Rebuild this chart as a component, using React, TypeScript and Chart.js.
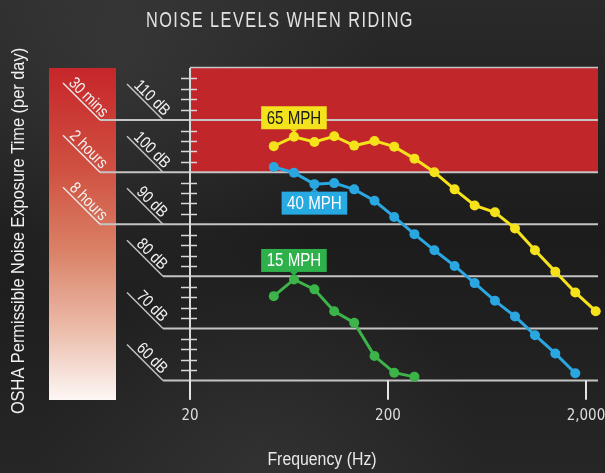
import React, { useEffect, useRef } from "react";
import { Chart, registerables } from "chart.js";

Chart.register(...registerables);

// ---------- data ----------
const frequencies = [53, 67, 85, 107, 135, 171, 215, 272, 343, 434, 548, 694, 876, 1105, 1400, 1766, 2240];
const mph65 = [105.0, 106.8, 105.8, 106.9, 105.1, 106.0, 104.9, 102.6, 100.0, 96.7, 93.6, 92.3, 89.2, 85.0, 80.9, 76.9, 73.3];
const mph40 = [101.0, 99.9, 97.7, 97.9, 96.7, 94.5, 91.4, 88.1, 85.0, 82.0, 78.7, 75.3, 72.3, 68.7, 65.2, 61.4];
const mph15 = [76.2, 79.4, 77.5, 73.3, 71.1, 64.7, 61.5, 60.7];
const seriesNames = ["65 MPH", "40 MPH", "15 MPH"];
const seriesColors = ["#f5e21b", "#2aa7e0", "#3cb44a"];
const calloutColors = ["#f4e31c", "#27a9e1", "#2eb04a"];
const calloutTextColors = ["#1a1a1a", "#ffffff", "#ffffff"];
const calloutAnchor = [1, 2, 1];
const calloutAbove = [true, false, true];

const xTicks = [20, 200, 2000];
const xTickLabels = ["20", "200", "2,000"];
const dbLevels = [110, 100, 90, 80, 70, 60];
const dbLabels = ["110 dB", "100 dB", "90 dB", "80 dB", "70 dB", "60 dB"];
const exposureLevels = [110, 100, 90];
const exposureLabels = ["30 mins", "2 hours", "8 hours"];
const dangerRange = [100, 120];
const minorTickStep = 2;

const titleText = "NOISE LEVELS WHEN RIDING";
const yTitle = "OSHA Permissible Noise Exposure Time (per day)";
const xTitle = "Frequency (Hz)";

const FONT = '"Liberation Sans", "Roboto", sans-serif';
const TICK_FONT = '"DejaVu Sans Condensed", "Liberation Sans", sans-serif';
const NARROW = 0.84;

const toPoints = (vals: number[]) => vals.map((v, i) => ({ x: frequencies[i], y: v }));

function narrowText(ctx: CanvasRenderingContext2D, text: string, x: number, y: number, scale = NARROW) {
  ctx.save();
  ctx.translate(x, y);
  ctx.scale(scale, 1);
  ctx.fillText(text, 0, 0);
  ctx.restore();
}

function drawDiag(ctx: CanvasRenderingContext2D, text: string, x1: number, y1: number, x2: number, y2: number) {
  const ang = Math.atan2(y2 - y1, x2 - x1);
  const mx = (x1 + x2) / 2;
  const my = (y1 + y2) / 2;
  ctx.save();
  ctx.translate(mx, my);
  ctx.rotate(ang);
  ctx.font = `16.5px ${FONT}`;
  ctx.fillStyle = "#f2f2f2";
  ctx.textAlign = "center";
  ctx.textBaseline = "alphabetic";
  narrowText(ctx, text, 2, -3);
  ctx.restore();
}

const decorPlugin = {
  id: "decor",
  beforeDraw(chart: any) {
    const { ctx, width, height } = chart;
    ctx.save();
    const g = ctx.createLinearGradient(0, 0, 0, height);
    g.addColorStop(0, "#2a2a2a");
    g.addColorStop(0.5, "#1c1c1c");
    g.addColorStop(1, "#262626");
    ctx.fillStyle = g;
    ctx.fillRect(0, 0, width, height);
    const r1 = ctx.createRadialGradient(120, 60, 10, 120, 60, 260);
    r1.addColorStop(0, "rgba(80,80,80,0.35)");
    r1.addColorStop(1, "rgba(80,80,80,0)");
    ctx.fillStyle = r1;
    ctx.fillRect(0, 0, width, height);
    const r2 = ctx.createRadialGradient(260, 470, 10, 260, 470, 220);
    r2.addColorStop(0, "rgba(70,70,70,0.35)");
    r2.addColorStop(1, "rgba(70,70,70,0)");
    ctx.fillStyle = r2;
    ctx.fillRect(0, 0, width, height);

    // title
    ctx.fillStyle = "#e2e2e2";
    ctx.font = `22px ${FONT}`;
    (ctx as any).letterSpacing = "2px";
    ctx.textAlign = "center";
    ctx.textBaseline = "middle";
    narrowText(ctx, titleText, 280, 21, 0.74);
    (ctx as any).letterSpacing = "0px";

    // y title
    ctx.save();
    ctx.translate(19, 231);
    ctx.rotate(-Math.PI / 2);
    ctx.font = `18px ${FONT}`;
    ctx.fillStyle = "#f0f0f0";
    narrowText(ctx, yTitle, 0, 0, 0.91);
    ctx.restore();

    // x title
    ctx.font = `18px ${FONT}`;
    ctx.fillStyle = "#e8e8e8";
    narrowText(ctx, xTitle, 322, 460, 0.88);
    ctx.restore();
  },
  beforeDatasetsDraw(chart: any) {
    const { ctx } = chart;
    const ys = chart.scales.y;
    const { left, right, top, bottom } = chart.chartArea;
    ctx.save();

    // exposure gradient bar
    const barL = 49, barR = 116, barB = bottom + 19.5;
    const gg = ctx.createLinearGradient(0, top, 0, barB);
    gg.addColorStop(0, "#c7262a");
    gg.addColorStop(0.3, "#cf5040");
    gg.addColorStop(0.55, "#da8166");
    gg.addColorStop(0.8, "#ecbfae");
    gg.addColorStop(1, "#fdf7f5");
    ctx.fillStyle = gg;
    ctx.fillRect(barL, top, barR - barL, barB - top);

    // danger band
    const bTop = ys.getPixelForValue(dangerRange[1]);
    const bBot = ys.getPixelForValue(dangerRange[0]);
    ctx.fillStyle = "#c1262b";
    ctx.fillRect(left, bTop, right - left, bBot - bTop);
    ctx.strokeStyle = "rgba(215,215,215,0.9)";
    ctx.lineWidth = 1.5;
    ctx.beginPath();
    ctx.moveTo(left, bTop - 0.5);
    ctx.lineTo(right, bTop - 0.5);
    ctx.stroke();

    // gridlines and diagonal labels
    ctx.strokeStyle = "#c4c4c4";
    dbLevels.forEach((lv, i) => {
      const yp = ys.getPixelForValue(lv);
      const startX = exposureLevels.includes(lv) ? 100 : 163;
      ctx.lineWidth = 2;
      ctx.beginPath();
      ctx.moveTo(startX, yp);
      ctx.lineTo(right, yp);
      ctx.stroke();
      ctx.lineWidth = 1.5;
      ctx.beginPath();
      ctx.moveTo(127, yp - 36);
      ctx.lineTo(163, yp);
      ctx.stroke();
      drawDiag(ctx, dbLabels[i], 127, yp - 36, 163, yp);
    });
    exposureLevels.forEach((lv, i) => {
      const yp = ys.getPixelForValue(lv);
      ctx.strokeStyle = "#e8e8e8";
      ctx.lineWidth = 1.5;
      ctx.beginPath();
      ctx.moveTo(63, yp - 37);
      ctx.lineTo(100, yp);
      ctx.stroke();
      drawDiag(ctx, exposureLabels[i], 63, yp - 37, 100, yp);
    });

    // y axis line
    ctx.fillStyle = "#d8d8d8";
    ctx.fillRect(left - 1, top, 2, bottom + 19 - top);
    // minor ticks
    ctx.strokeStyle = "#d8d8d8";
    ctx.lineWidth = 1.5;
    for (let v = ys.min + minorTickStep; v < ys.max; v += minorTickStep) {
      if (v % 10 === 0) continue;
      const yp = Math.round(ys.getPixelForValue(v)) + 0.5;
      ctx.beginPath();
      ctx.moveTo(left - 9, yp);
      ctx.lineTo(left + 7, yp);
      ctx.stroke();
    }
    ctx.restore();
  },
  afterDatasetsDraw(chart: any) {
    const { ctx } = chart;
    ctx.save();
    ctx.font = `18px ${FONT}`;
    ctx.textAlign = "center";
    ctx.textBaseline = "middle";
    seriesNames.forEach((name, i) => {
      const pt = chart.getDatasetMeta(i).data[calloutAnchor[i]];
      if (!pt) return;
      const w = ctx.measureText(name).width * NARROW + 11;
      const h = 23;
      const cx = pt.x;
      let boxTop: number, tipY: number, baseY: number;
      if (calloutAbove[i]) {
        boxTop = pt.y - 7.5 - h;
        baseY = pt.y - 7.5;
        tipY = pt.y - 4;
      } else {
        boxTop = pt.y + 7.5;
        baseY = pt.y + 7.5;
        tipY = pt.y + 4;
      }
      ctx.fillStyle = calloutColors[i];
      ctx.fillRect(cx - w / 2, boxTop, w, h);
      ctx.beginPath();
      ctx.moveTo(cx - 4, baseY);
      ctx.lineTo(cx + 4, baseY);
      ctx.lineTo(cx, tipY);
      ctx.closePath();
      ctx.fill();
      ctx.fillStyle = calloutTextColors[i];
      narrowText(ctx, name, cx, boxTop + h / 2 + 1);
    });
    ctx.restore();
  },
  afterDraw(chart: any) {
    const { ctx } = chart;
    const xs = chart.scales.x;
    const { bottom } = chart.chartArea;
    ctx.save();
    ctx.fillStyle = "#e4e4e4";
    xTicks.forEach((v) => {
      const xp = xs.getPixelForValue(v);
      ctx.fillRect(Math.round(xp) - 1, bottom, 2, 19);
    });
    ctx.restore();
  },
};

export default function App() {
  const ref = useRef<HTMLCanvasElement | null>(null);
  useEffect(() => {
    if (!ref.current) return;
    const ds = [mph65, mph40, mph15].map((vals, i) => ({
      label: seriesNames[i],
      data: toPoints(vals),
      borderColor: seriesColors[i],
      backgroundColor: seriesColors[i],
      borderWidth: 3,
      pointRadius: 5,
      pointBorderWidth: 0,
      pointHoverRadius: 5,
      tension: 0,
      clip: false as any,
    }));
    const chart = new Chart(ref.current, {
      type: "line",
      data: { datasets: ds as any },
      options: {
        animation: false,
        responsive: false,
        devicePixelRatio: 1,
        events: [],
        layout: { padding: { left: 190, right: 7, top: 68, bottom: 0 } },
        plugins: { legend: { display: false }, tooltip: { enabled: false }, title: { display: false } },
        scales: {
          x: {
            type: "logarithmic",
            min: 20,
            max: 2300,
            afterBuildTicks: (s: any) => {
              s.ticks = xTicks.map((v) => ({ value: v }));
            },
            afterFit: (s: any) => {
              s.height = 92.5;
              s.paddingLeft = 0;
              s.paddingRight = 0;
            },
            ticks: {
              callback: (v: any) => {
                const idx = xTicks.indexOf(Number(v));
                return idx >= 0 ? xTickLabels[idx] : "";
              },
              color: "#dedede",
              font: { family: TICK_FONT, size: 15 },
              padding: 8,
              maxRotation: 0,
              autoSkip: false,
            },
            grid: { drawOnChartArea: false, drawTicks: true, tickLength: 19, color: "#d8d8d8", lineWidth: 2 },
            border: { display: false },
          },
          y: { display: false, min: 60, max: 120 },
        },
      },
      plugins: [decorPlugin],
    });
    return () => chart.destroy();
  }, []);
  return (
    <div style={{ position: "fixed", left: 0, top: 0, width: 605, height: 473 }}>
      <canvas ref={ref} width={605} height={473} style={{ display: "block" }} />
    </div>
  );
}
